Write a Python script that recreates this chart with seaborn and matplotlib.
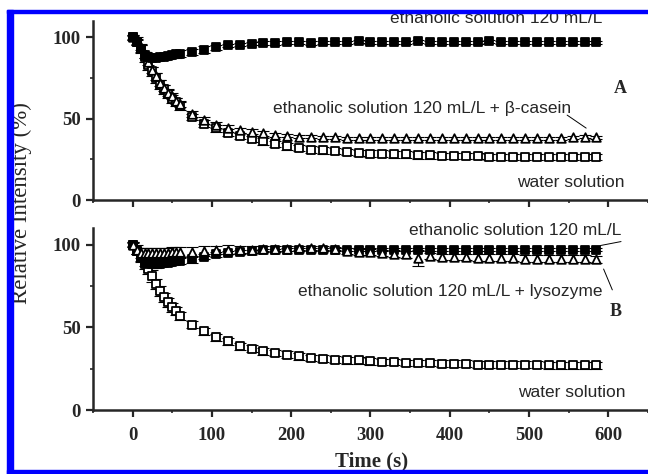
import pandas as pd
import seaborn as sns
import matplotlib.pyplot as plt
from matplotlib.patches import Rectangle
from matplotlib.ticker import MultipleLocator

# sampling times (s)
time = [0, 5, 10, 15, 20, 25, 30, 35, 40, 45, 50, 55, 60,
        75, 90, 105, 120, 135, 150, 165, 180, 195, 210, 225, 240,
        255, 270, 285, 300, 315, 330, 345, 360, 375, 390, 405, 420,
        435, 450, 465, 480, 495, 510, 525, 540, 555, 570, 585]

# panel A
a_ethanol = [100, 97, 93, 89, 88, 87.5, 87.5, 88, 88, 88.5, 89, 89.5, 90,
             91, 92.5, 94, 95, 95.5, 96, 96.5, 96.5, 97, 97, 96.5, 97,
             97, 97, 97.5, 97, 97, 97, 97, 97.5, 97, 97, 97, 97,
             97, 97.5, 97, 97, 97, 97, 97, 97, 97, 97, 97]
a_ethanol_err = [1, 1.5, 2, 2, 2, 2, 2, 2, 2, 2, 2, 2, 2,
                 2, 2, 1.5, 1, 1, 1, 1, 1, 1, 1, 1, 1,
                 1, 1, 1, 1, 1, 1, 1, 1, 1, 1, 1, 1,
                 1, 1, 1, 1, 1, 1, 1, 1, 1, 1, 1]
a_casein = [100, 98, 94, 89, 85, 80, 76, 72, 69, 66, 64, 61, 59,
            53, 49, 46, 44, 43, 42, 41, 40, 39.5, 39, 39, 38.5,
            38.5, 38, 38, 38, 38, 38, 38, 38, 38, 38, 38, 38,
            38, 38, 38, 38, 38, 38, 38, 38, 38.5, 39, 38.5]
a_casein_err = [1.5, 2, 2, 2, 2, 2, 2, 2, 2, 2, 2, 2, 2,
                2, 2, 2, 2, 1.5, 1.5, 1.5, 1.5, 1, 1, 1, 1,
                1, 1, 1, 1, 1, 1, 1, 1, 1, 1, 1, 1,
                1, 1, 1, 1, 1, 1, 1, 1, 1, 1, 1]
a_water = [100, 97, 93, 88, 83, 79, 75, 71, 68, 65, 62, 60, 58,
           51, 47, 44, 41.5, 39.5, 37.5, 36, 34.5, 33, 32, 31, 30.5,
           30, 29.5, 29, 28.5, 28.5, 28, 28, 27.5, 27.5, 27, 27, 27,
           27, 26.5, 26.5, 26.5, 26.5, 26.5, 26.5, 26.5, 26.5, 26.5, 26.5]
a_water_err = [1.5, 2, 2.5, 3, 3, 3, 3, 3, 3, 2.5, 2.5, 2.5, 2.5,
               2, 2, 2, 2, 2, 2, 2, 2, 2, 2, 2, 2,
               2, 2, 2, 2, 2, 2, 2, 2, 2, 2, 2, 2,
               2, 2, 2, 2, 2, 2, 2, 2, 2, 2, 2]

# panel B
b_ethanol = [100, 96, 92, 89, 88, 88, 88, 88.5, 89, 89, 89.5, 90, 90,
             91, 92.5, 94, 95, 95.5, 96, 96.5, 96.5, 97, 97, 97, 97,
             97, 97, 97, 97, 97, 97, 97, 97, 97, 97, 97, 97,
             97, 97, 97, 97, 97, 97, 97, 97, 97, 97, 97]
b_ethanol_err = [1, 2, 2, 2, 2, 2, 2, 2, 2, 2, 2, 2, 2,
                 2, 1.5, 1.5, 1, 1, 1, 1, 1, 1, 1, 1, 1,
                 1, 1, 1, 1, 1, 1, 1, 1, 1, 1, 1, 1,
                 1, 1, 1, 1, 1, 1, 1, 1, 1, 1, 1]
b_lysozyme = [100, 97, 95, 95, 95, 95, 95, 95, 95, 95, 95.5, 95.5, 95.5,
              95.5, 96, 96.5, 97, 97, 97, 97.5, 97.5, 97.5, 98, 98, 98,
              97.5, 96, 95.5, 95.5, 95, 94.5, 94, 92, 93, 92.5, 92.5, 92.5,
              92, 92, 92, 92, 91.5, 91.5, 91.5, 91.5, 91.5, 91.5, 91]
b_lysozyme_err = [1.5, 2.5, 3, 3, 3, 3, 3, 3, 3, 3, 3, 3, 3,
                  3, 3, 2.5, 2.5, 2, 2, 1.5, 1.5, 1.5, 1, 1, 1,
                  1, 2, 2, 2, 2, 2, 2, 5, 2, 2, 2, 2,
                  2, 2, 2, 2, 2, 2, 2, 2, 2, 2, 2]
b_water = [100, 96, 92, 88, 85, 81, 76, 72, 68, 65, 62, 60, 57,
           51.5, 47.5, 44, 41.5, 38.5, 37, 35.5, 34.5, 33.5, 32.5, 31.5, 31,
           30.5, 30, 30, 29.5, 29, 29, 28.5, 28.5, 28.5, 28, 28, 28,
           27.5, 27.5, 27.5, 27.5, 27.5, 27.5, 27, 27, 27, 27, 27]
b_water_err = [1.5, 2, 2.5, 3, 3, 3.5, 3, 3, 3, 2.5, 2.5, 2.5, 2.5,
               2, 2, 2, 2, 2, 2, 2, 2, 2, 2, 2, 2,
               2, 2, 2, 2, 2, 2, 2, 2, 2, 2, 2, 2,
               2, 2, 2, 2, 2, 2, 2, 2, 2, 2, 2]

sns.set_style("ticks")
plt.rcParams["font.family"] = ["Liberation Serif", "DejaVu Serif"]

fig = plt.figure(figsize=(6.48, 4.74), dpi=100)
ax_a = fig.add_axes([0.1435, 0.578, 0.8565, 0.3776])
ax_b = fig.add_axes([0.1435, 0.135, 0.8565, 0.384])


def draw_series(ax, values, errors, marker, face, size):
    df = pd.DataFrame({"time": time, "value": values})
    ax.errorbar(df["time"], df["value"], yerr=errors, fmt="none", ecolor="black",
                elinewidth=0.8, capsize=4, capthick=0.8, zorder=2)
    sns.scatterplot(data=df, x="time", y="value", ax=ax, marker=marker, s=size,
                    color=face, edgecolor="black", linewidth=1.3, zorder=3)


draw_series(ax_a, a_water, a_water_err, "s", "white", 30)
draw_series(ax_a, a_casein, a_casein_err, "^", "white", 38)
draw_series(ax_a, a_ethanol, a_ethanol_err, "s", "black", 30)

draw_series(ax_b, b_water, b_water_err, "s", "white", 30)
draw_series(ax_b, b_ethanol, b_ethanol_err, "s", "black", 30)
draw_series(ax_b, b_lysozyme, b_lysozyme_err, "^", "white", 38)

for ax in (ax_a, ax_b):
    ax.set_xlim(-50, 650)
    ax.set_ylim(0, 110)
    ax.set_xlabel("")
    ax.set_ylabel("")
    sns.despine(ax=ax)
    for side in ("left", "bottom"):
        ax.spines[side].set_linewidth(1.8)
    ax.xaxis.set_major_locator(MultipleLocator(100))
    ax.xaxis.set_minor_locator(MultipleLocator(50))
    ax.yaxis.set_major_locator(MultipleLocator(50))
    ax.yaxis.set_minor_locator(MultipleLocator(25))
    ax.set_xticks(range(0, 601, 100))
    ax.tick_params(which="major", direction="out", length=5, width=1.6,
                   labelsize=13.5, pad=4)
    ax.tick_params(which="minor", direction="out", length=2.5, width=1.2)
    for lab in ax.get_xticklabels() + ax.get_yticklabels():
        lab.set_fontweight("bold")
ax_a.tick_params(labelbottom=False)
ax_b.tick_params(axis="x", pad=7)

sans = ["Liberation Sans", "DejaVu Sans"]
txt = dict(family=sans, fontsize=12.5, ha="right", va="baseline", clip_on=False)

ax_a.text(592, 108.8, "ethanolic solution 120 mL/L", **txt)
ax_a.text(553, 53.5, "ethanolic solution 120 mL/L + \u03b2-casein", **txt)
ax_a.plot([548, 572], [52.2, 44.2], color="black", lw=0.7)
ax_a.text(621, 8.2, "water solution", **txt)
ax_a.text(615, 68.8, "A", fontsize=13, fontweight="bold", ha="center", va="center")

ax_b.text(616, 105.5, "ethanolic solution 120 mL/L", **txt)
ax_b.plot([590, 616], [99.4, 101.8], color="black", lw=0.7)
ax_b.text(592, 69, "ethanolic solution 120 mL/L + lysozyme", **txt)
ax_b.plot([594, 605], [85.2, 72.6], color="black", lw=0.7)
ax_b.text(609, 59.6, "B", fontsize=13, fontweight="bold", ha="center", va="center")
ax_b.text(622, 8.1, "water solution", **txt)

fig.text(0.033, 0.572, "Relative Intensity (%)", rotation=90, fontsize=16.5,
         ha="center", va="center")
fig.text(0.574, 0.016, "Time (s)", fontsize=15, fontweight="bold",
         ha="center", va="baseline")

# blue frame around the picture
blue = "#0000ff"
fig.add_artist(Rectangle((7 / 648, 0), 6 / 648, 1 - 10 / 474, transform=fig.transFigure,
                         color=blue, zorder=20))
fig.add_artist(Rectangle((7 / 648, 1 - 13 / 474), 1, 3 / 474, transform=fig.transFigure,
                         color=blue, zorder=20))
fig.add_artist(Rectangle((7 / 648, 0), 1, 4 / 474, transform=fig.transFigure,
                         color=blue, zorder=20))

fig.savefig("out.png", dpi=100)
plt.close("all")
